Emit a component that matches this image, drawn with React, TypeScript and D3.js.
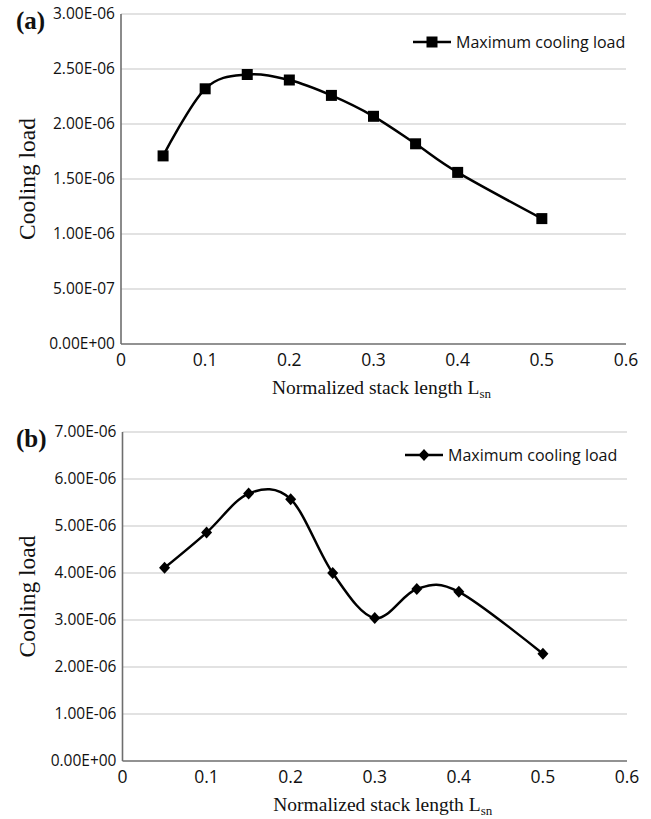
import React from "react";
import * as d3 from "d3";

// stack length values (x) shared by both panels
const stackLength = [0.05, 0.1, 0.15, 0.2, 0.25, 0.3, 0.35, 0.4, 0.5];

// maximum cooling load, panel (a) and panel (b)
const coolingLoadA = [1.71e-6, 2.32e-6, 2.45e-6, 2.4e-6, 2.26e-6, 2.07e-6, 1.82e-6, 1.56e-6, 1.14e-6];
const coolingLoadB = [4.11e-6, 4.86e-6, 5.69e-6, 5.57e-6, 4.0e-6, 3.04e-6, 3.66e-6, 3.6e-6, 2.28e-6];

const xTicks = [0, 0.1, 0.2, 0.3, 0.4, 0.5, 0.6];
const xTickLabels = ["0", "0.1", "0.2", "0.3", "0.4", "0.5", "0.6"];
const yTicksA = [0, 5e-7, 1e-6, 1.5e-6, 2e-6, 2.5e-6, 3e-6];
const yTicksB = [0, 1e-6, 2e-6, 3e-6, 4e-6, 5e-6, 6e-6, 7e-6];

const seriesName = "Maximum cooling load";

const W = 651;
const H = 819;
const sans = "'Open Sans', sans-serif";
const serif = "'Liberation Serif', 'Times New Roman', serif";

// Excel style scientific labels, e.g. 2.50E-06
const fmtE = (v: number) => {
  if (v === 0) return "0.00E+00";
  const [m, e] = d3.format(".2e")(v).split("e");
  const n = +e;
  return `${m}E${n < 0 ? "-" : "+"}${String(Math.abs(n)).padStart(2, "0")}`;
};

type PanelProps = {
  tag: string;
  values: number[];
  yTicks: number[];
  yMax: number;
  x0: number;
  x1: number;
  yBottom: number;
  yTop: number;
  marker: "square" | "diamond";
  legendX: number;
  legendY: number;
};

const Marker = ({ cx, cy, kind }: { cx: number; cy: number; kind: string }) =>
  kind === "square" ? (
    <rect x={cx - 5.5} y={cy - 5.5} width={11} height={11} fill="#000" />
  ) : (
    <path d={`M${cx},${cy - 6}L${cx + 5.5},${cy}L${cx},${cy + 6}L${cx - 5.5},${cy}Z`} fill="#000" />
  );

const Panel = ({ tag, values, yTicks, yMax, x0, x1, yBottom, yTop, marker, legendX, legendY }: PanelProps) => {
  const x = d3.scaleLinear().domain([0, 0.6]).range([x0, x1]);
  const y = d3.scaleLinear().domain([0, yMax]).range([yBottom, yTop]);

  const pts: [number, number][] = stackLength.map((d, i) => [x(d), y(values[i])]);
  const line = d3.line().curve(d3.curveCardinal.tension(0));

  const midY = (yBottom + yTop) / 2;

  return (
    <g>
      {/* gridlines */}
      {yTicks.slice(1).map((t) => (
        <line key={t} x1={x0} x2={x1} y1={y(t)} y2={y(t)} stroke="#d9d9d9" strokeWidth={1.3} />
      ))}
      {/* axes */}
      <line x1={x0} x2={x0} y1={yTop} y2={yBottom} stroke="#6e6e6e" strokeWidth={1.6} />
      <line x1={x0} x2={x1} y1={yBottom} y2={yBottom} stroke="#6e6e6e" strokeWidth={1.6} />

      {yTicks.map((t) => (
        <text key={t} x={x0 - 6} y={y(t)} dy="0.35em" textAnchor="end" fontFamily={sans} fontSize={15.5} fill="#111">
          {fmtE(t)}
        </text>
      ))}
      {xTicks.map((t, i) => (
        <text key={t} x={x(t)} y={yBottom + 16} dy="0.35em" textAnchor="middle" fontFamily={sans} fontSize={17.5} fill="#111">
          {xTickLabels[i]}
        </text>
      ))}

      {/* series */}
      <path d={line(pts) ?? ""} fill="none" stroke="#000" strokeWidth={2.5} />
      {pts.map(([px, py], i) => (
        <Marker key={i} cx={px} cy={py} kind={marker} />
      ))}

      {/* legend */}
      <line x1={legendX} x2={legendX + 38} y1={legendY} y2={legendY} stroke="#000" strokeWidth={2.5} />
      <Marker cx={legendX + 19} cy={legendY} kind={marker} />
      <text x={legendX + 43} y={legendY} dy="0.35em" fontFamily={sans} fontSize={16} fill="#111">
        {seriesName}
      </text>

      {/* axis titles */}
      <text
        transform={`translate(27,${midY}) rotate(-90)`}
        textAnchor="middle"
        dy="0.35em"
        fontFamily={serif}
        fontSize={23.5}
        fill="#111"
      >
        Cooling load
      </text>
      <text x={(x0 + x1) / 2 + 8} y={yBottom + 43} dy="0.35em" textAnchor="middle" fontFamily={serif} fontSize={19.5} fill="#111">
        Normalized stack length L
        <tspan fontSize={13} dy="4">
          sn
        </tspan>
      </text>

      {/* panel tag */}
      <text x={16} y={yTop + 6} dy="0.35em" fontFamily={serif} fontWeight="bold" fontSize={25} fill="#111">
        {tag}
      </text>
    </g>
  );
};

export default function App() {
  return (
    <div style={{ position: "absolute", left: 0, top: 0, background: "#fff" }}>
      <svg width={W} height={H} viewBox={`0 0 ${W} ${H}`}>
        <rect width={W} height={H} fill="#fff" />
        <Panel
          tag="(a)"
          values={coolingLoadA}
          yTicks={yTicksA}
          yMax={3e-6}
          x0={121}
          x1={626}
          yBottom={344}
          yTop={14}
          marker="square"
          legendX={413}
          legendY={42}
        />
        <Panel
          tag="(b)"
          values={coolingLoadB}
          yTicks={yTicksB}
          yMax={7e-6}
          x0={122.5}
          x1={627}
          yBottom={761}
          yTop={432}
          marker="diamond"
          legendX={405}
          legendY={455}
        />
      </svg>
    </div>
  );
}
